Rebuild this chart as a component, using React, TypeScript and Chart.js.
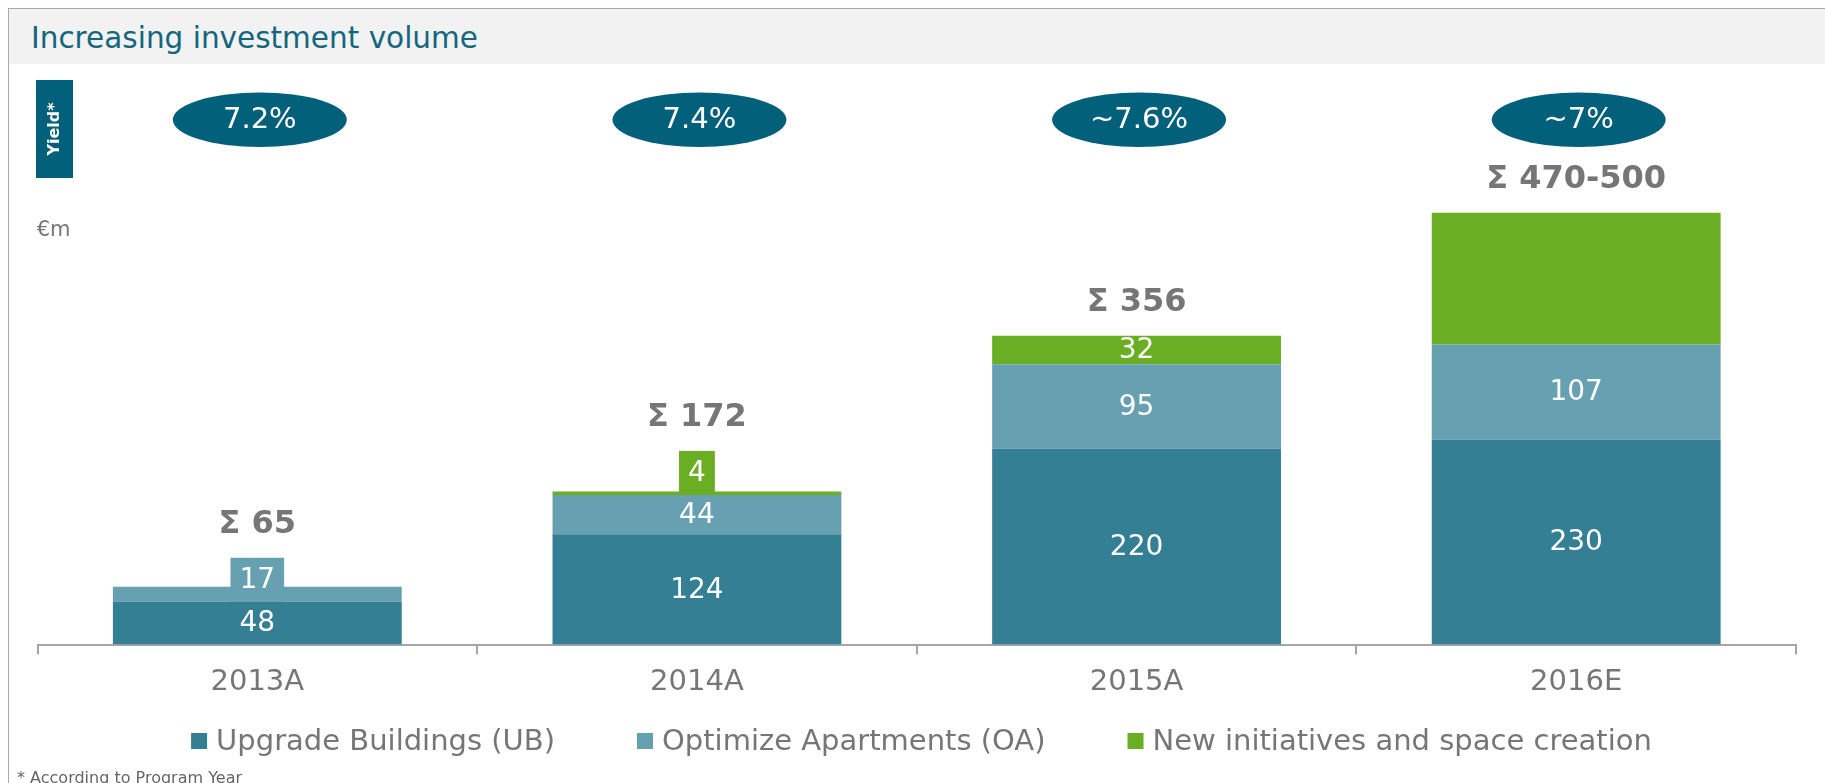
import React, { useEffect, useRef } from "react";
import { Chart, registerables } from "chart.js";

Chart.register(...registerables);

if (typeof document !== "undefined") {
  document.documentElement.style.overflow = "hidden";
  document.body.style.overflow = "hidden";
  document.body.style.margin = "8px 0 0 8px";
}

const categories = ["2013A", "2014A", "2015A", "2016E"];
const upgradeBuildings = [48, 124, 220, 230];
const optimizeApartments = [17, 44, 95, 107];
const newInitiatives = [0, 4, 32, 148];
const newInitiativesLabels = ["", "4", "32", ""];
const totalLabels = ["Σ 65", "Σ 172", "Σ 356", "Σ 470-500"];
const yieldLabels = ["7.2%", "7.4%", "~7.6%", "~7%"];
const seriesNames = [
  "Upgrade Buildings (UB)",
  "Optimize Apartments (OA)",
  "New initiatives and space creation",
];
const yAxisMax = 500;

const FONT = "'DejaVu Sans', Verdana, sans-serif";
const COLORS = ["#347f93", "#66a0b1", "#6aae23"];
const DARK = "#02607a";
const GREY = "#767676";

const overlayPlugin = {
  id: "overlay",
  afterDatasetsDraw(chart: any) {
    const ctx = chart.ctx as CanvasRenderingContext2D;
    const labelSets = [
      upgradeBuildings.map(String),
      optimizeApartments.map(String),
      newInitiativesLabels,
    ];
    const tops = categories.map(() => Infinity);
    const xs = categories.map(() => 0);
    ctx.save();
    chart.data.datasets.forEach((ds: any, di: number) => {
      const meta = chart.getDatasetMeta(di);
      meta.data.forEach((el: any, i: number) => {
        const p = el.getProps(["x", "y", "base", "width"], true);
        const top = Math.min(p.y, p.base);
        const bottom = Math.max(p.y, p.base);
        const h = bottom - top;
        xs[i] = p.x;
        if (h > 0.01) tops[i] = Math.min(tops[i], top);
        const txt = labelSets[di][i];
        if (!txt) return;
        ctx.font = `28px ${FONT}`;
        ctx.textAlign = "center";
        ctx.textBaseline = "middle";
        if (h < 20) {
          const tw = ctx.measureText(txt).width;
          const bw = tw + 18;
          const bh = 44;
          const by = bottom - bh;
          ctx.fillStyle = ds.backgroundColor;
          ctx.fillRect(p.x - bw / 2, by, bw, bh);
          tops[i] = Math.min(tops[i], by);
          ctx.fillStyle = "#ffffff";
          ctx.fillText(txt, p.x, by + bh / 2 + 1);
        } else {
          ctx.fillStyle = "#ffffff";
          ctx.fillText(txt, p.x, (top + bottom) / 2 + 1);
        }
      });
    });

    // totals
    ctx.font = `bold 32px ${FONT}`;
    ctx.fillStyle = GREY;
    ctx.textAlign = "center";
    ctx.textBaseline = "alphabetic";
    totalLabels.forEach((t, i) => {
      ctx.fillText(t, xs[i], tops[i] - 25);
    });

    // yield ellipses
    yieldLabels.forEach((t, i) => {
      const cx = xs[i] + 2.5;
      const cy = 55.7;
      ctx.beginPath();
      ctx.ellipse(cx, cy, 87, 27.3, 0, 0, Math.PI * 2);
      ctx.fillStyle = DARK;
      ctx.fill();
      ctx.font = `29px ${FONT}`;
      ctx.fillStyle = "#ffffff";
      ctx.textAlign = "center";
      ctx.textBaseline = "middle";
      ctx.fillText(t, cx, cy + 1);
    });

    // Yield* box
    ctx.fillStyle = DARK;
    ctx.fillRect(27, 16, 37, 98);
    ctx.save();
    ctx.translate(45.5, 65);
    ctx.rotate(-Math.PI / 2);
    ctx.font = `bold 16px ${FONT}`;
    ctx.fillStyle = "#ffffff";
    ctx.textAlign = "center";
    ctx.textBaseline = "middle";
    ctx.fillText("Yield*", 0, 0);
    ctx.restore();

    // unit
    ctx.font = `21px ${FONT}`;
    ctx.fillStyle = GREY;
    ctx.textAlign = "left";
    ctx.textBaseline = "alphabetic";
    ctx.fillText("€m", 27.7, 171.7);

    // legend
    ctx.font = `29px ${FONT}`;
    const widths = seriesNames.map((n) => ctx.measureText(n).width);
    const box = 16;
    const gapText = 9;
    const gapItems = 82;
    const total =
      widths.reduce((a, b) => a + b, 0) +
      seriesNames.length * (box + gapText) +
      (seriesNames.length - 1) * gapItems;
    let lx = 912.5 - total / 2;
    seriesNames.forEach((n, i) => {
      ctx.fillStyle = COLORS[i];
      ctx.fillRect(lx, 669, box, box);
      ctx.fillStyle = GREY;
      ctx.textAlign = "left";
      ctx.textBaseline = "alphabetic";
      ctx.fillText(n, lx + box + gapText, 686);
      lx += box + gapText + widths[i] + gapItems;
    });

    // footnote
    ctx.font = `16px ${FONT}`;
    ctx.fillStyle = "#666666";
    ctx.textAlign = "left";
    ctx.fillText("* According to Program Year", 8, 719);
    ctx.restore();
  },
};

export default function App() {
  const ref = useRef<HTMLCanvasElement | null>(null);

  useEffect(() => {
    if (!ref.current) return;
    const chart = new Chart(ref.current, {
      type: "bar",
      data: {
        labels: categories,
        datasets: [
          { label: seriesNames[0], data: upgradeBuildings, backgroundColor: COLORS[0] },
          { label: seriesNames[1], data: optimizeApartments, backgroundColor: COLORS[1] },
          { label: seriesNames[2], data: newInitiatives, backgroundColor: COLORS[2] },
        ],
      },
      options: {
        responsive: false,
        animation: false,
        layout: { padding: { left: 28.5, right: 29, top: 135.5, bottom: 71.7 } },
        datasets: { bar: { categoryPercentage: 1, barPercentage: 0.657, borderWidth: 0 } },
        plugins: { legend: { display: false }, tooltip: { enabled: false } },
        scales: {
          x: {
            stacked: true,
            offset: true,
            grid: {
              display: true,
              drawOnChartArea: false,
              drawTicks: true,
              tickLength: 10,
              offset: true,
              color: "#a6a6a6",
              lineWidth: 2,
            },
            border: { display: true, color: "#a6a6a6", width: 2 },
            ticks: { color: GREY, font: { family: FONT, size: 29 }, padding: 11 },
          },
          y: { stacked: true, display: false, min: 0, max: yAxisMax },
        },
      } as any,
      plugins: [overlayPlugin],
    });
    return () => chart.destroy();
  }, []);

  return (
    <div
      style={{
        position: "relative",
        width: 1817,
        height: 775,
        borderTop: "1px solid #a9a9a9",
        borderLeft: "1px solid #a9a9a9",
        boxSizing: "border-box",
        overflow: "hidden",
        background: "#ffffff",
      }}
    >
      <div
        style={{
          height: 55,
          boxSizing: "border-box",
          background: "#f2f2f2",
          paddingLeft: 22,
          paddingTop: 11.5,
          color: "#12667f",
          fontFamily: FONT,
          fontSize: 29.5,
          lineHeight: "34px",
          whiteSpace: "nowrap",
        }}
      >
        Increasing investment volume
      </div>
      <canvas ref={ref} width={1816} height={719} style={{ display: "block" }} />
    </div>
  );
}
